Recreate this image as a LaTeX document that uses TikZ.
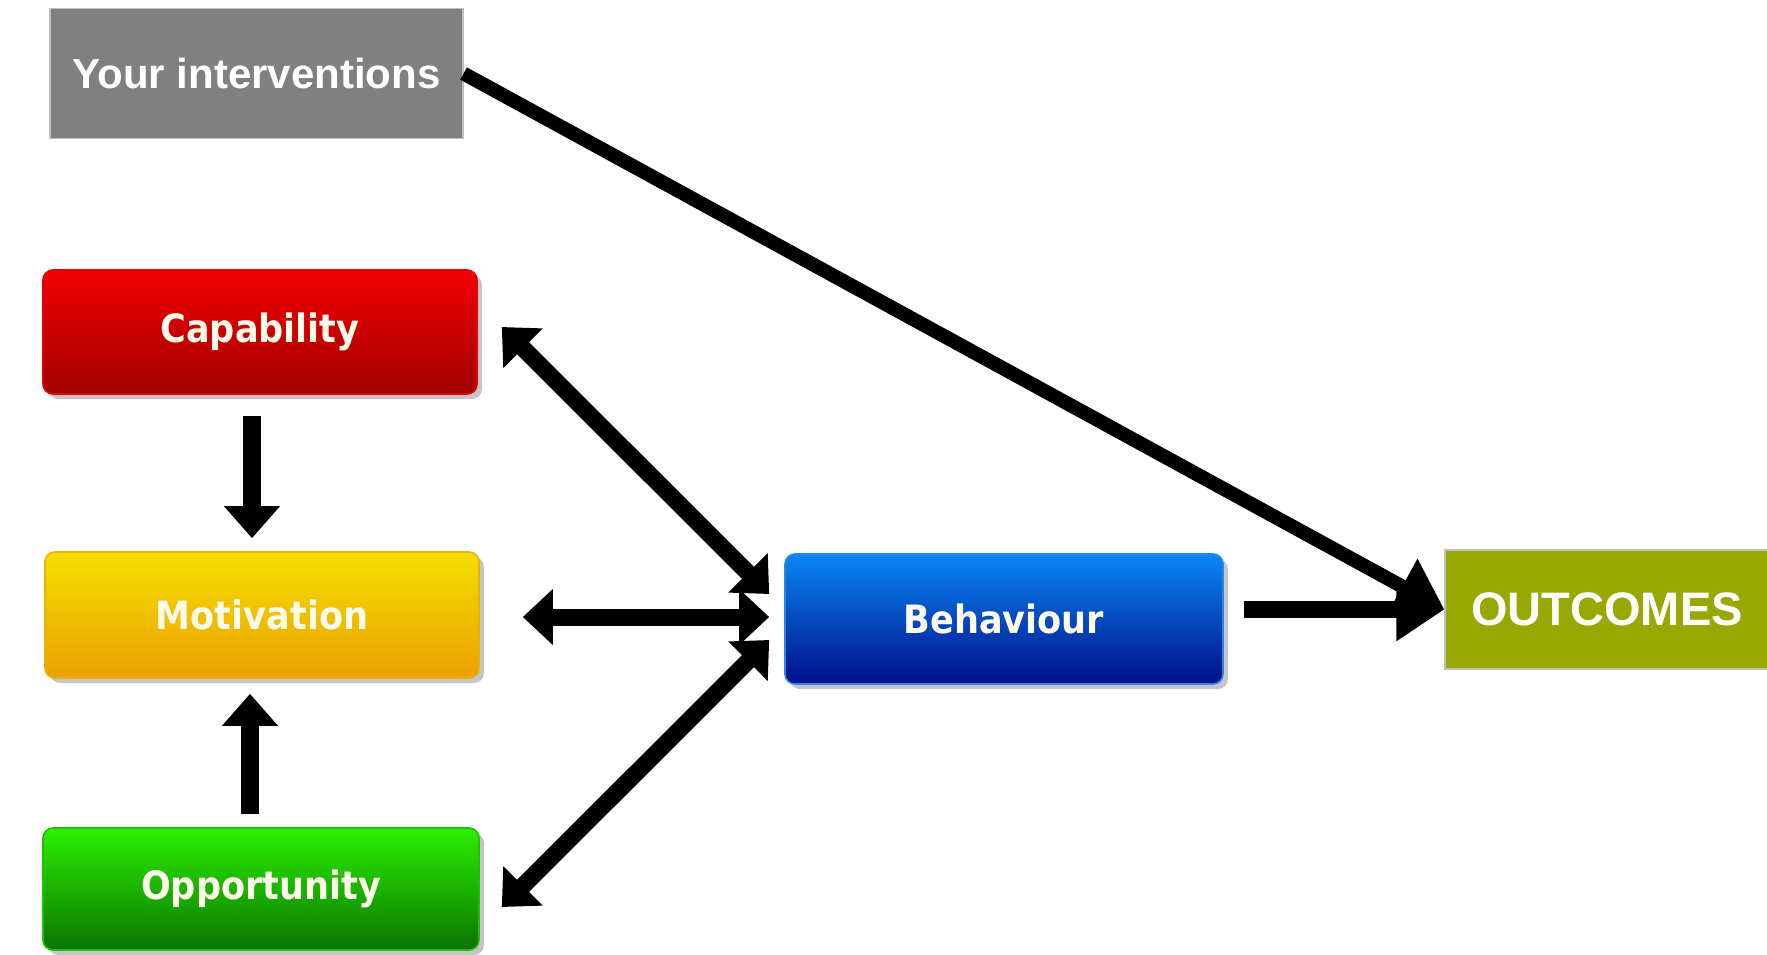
\documentclass[tikz,border=0pt]{standalone}
\usepackage{fontspec}
\setmainfont{Liberation Sans}
\newfontfamily\boxfont{DejaVu Sans Condensed}
\usetikzlibrary{arrows.meta,shadows,calc}
\definecolor{redT}{HTML}{F40000}
\definecolor{redB}{HTML}{A00000}
\definecolor{redD}{HTML}{E80000}
\definecolor{yelT}{HTML}{F5DF00}
\definecolor{yelB}{HTML}{EBA000}
\definecolor{yelD}{HTML}{E6B400}
\definecolor{grnT}{HTML}{2BF000}
\definecolor{grnB}{HTML}{0A7400}
\definecolor{grnD}{HTML}{20C000}
\definecolor{bluT}{HTML}{0A86F5}
\definecolor{bluB}{HTML}{000E88}
\definecolor{bluD}{HTML}{2A86E6}
\definecolor{grayBox}{HTML}{808080}
\definecolor{olive}{HTML}{99A800}
\definecolor{labelW}{HTML}{FFFBEA}
\tikzset{
  cbox/.style={rounded corners=5pt, minimum width=217pt, minimum height=62pt,
    inner sep=0pt, line width=0.8pt, text=labelW,
    font=\boxfont\bfseries\fontsize{19.5}{22}\selectfont,
    drop shadow={opacity=0.45, shadow xshift=2.5pt, shadow yshift=-2.5pt}},
  flatbox/.style={inner sep=0pt, text=white, draw=black!25, line width=0.6pt,
    font=\bfseries\fontsize{21}{24}\selectfont},
  fatarrow/.style={line width=9pt, draw=black,
    -{Triangle[width=27pt,length=16pt]}},
  fatdouble/.style={line width=8.5pt, draw=black,
    {Triangle[width=27pt,length=15pt]}-{Triangle[width=27pt,length=15pt]}},
  bigarrow/.style={draw=black, -{Triangle[width=30pt,length=24pt]}}
}
\begin{document}
\begin{tikzpicture}[x=0.5pt,y=-0.5pt]
\useasboundingbox (0,0) rectangle (1767,954);
\fill[white] (0,0) rectangle (1767,954);

\node[flatbox, fill=grayBox, minimum width=206.5pt, minimum height=65pt] (interv) at (256.5,73.5) {Your interventions};

\node[cbox, top color=redT, bottom color=redB, draw=redD] (cap) at (260,332) {Capability};
\node[cbox, top color=yelT, bottom color=yelB, draw=yelD, minimum height=63pt] (mot) at (262,615) {Motivation};
\node[cbox, top color=grnT, bottom color=grnB, draw=grnD, minimum height=61pt, minimum width=218pt] (opp) at (261,889) {Opportunity};
\node[cbox, top color=bluT, bottom color=bluB, draw=bluD, minimum width=219pt, minimum height=65pt] (beh) at (1004,619) {Behaviour};

\node[flatbox, fill=olive, minimum width=162pt, minimum height=59.5pt, font=\bfseries\fontsize{23.5}{26}\selectfont] (out) at (1607,609.5) {OUTCOMES};

% left vertical arrows
\draw[fatarrow] ($(cap.south)+(-8,21)$) -- ($(mot.north)+(-10,-13)$);
\draw[fatarrow] ($(opp.north)+(-11,-13)$) -- ($(mot.south)+(-12,15)$);

% double arrows to behaviour
\draw[fatdouble] ($(cap.east)+(24,-5)$) -- ($(beh.west)+(-15,-25)$);
\draw[fatdouble] ($(mot.east)+(43,2)$) -- ($(beh.west)+(-15,-2)$);
\draw[fatdouble] ($(opp.east)+(22,18)$) -- ($(beh.west)+(-15,21)$);

% to outcomes
\draw[bigarrow, line width=8.5pt] ($(beh.east)+(20,-9.5)$) -- (out.west);
\draw[bigarrow, line width=7pt] (interv.east) -- (out.west);
\end{tikzpicture}
\end{document}
